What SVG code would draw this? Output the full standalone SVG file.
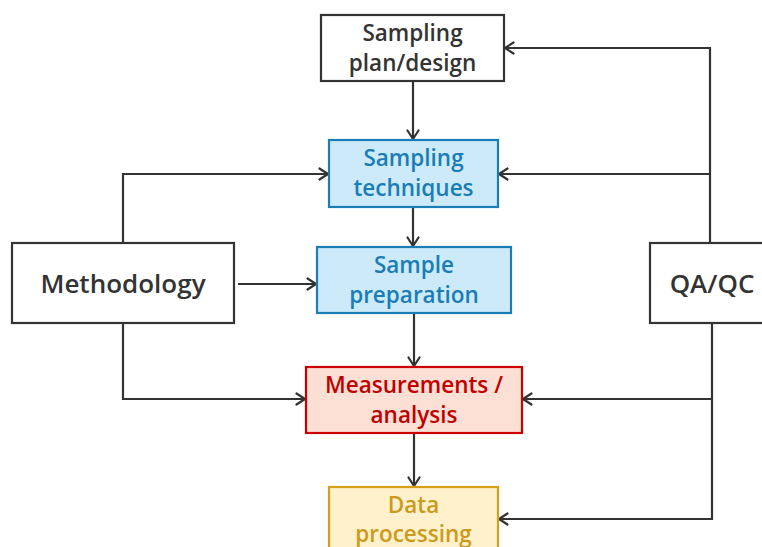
<svg xmlns="http://www.w3.org/2000/svg" width="762" height="547" viewBox="0 0 762 547">
<defs>
<marker id="arr" viewBox="0 0 14 14" refX="12.5" refY="7" markerWidth="14" markerHeight="14" markerUnits="userSpaceOnUse" orient="auto">
<path d="M4,1.5 L12.5,7 L4,12.5" fill="none" stroke="#333" stroke-width="2.2" stroke-linecap="round" stroke-linejoin="round"/>
</marker>
<style>
text{font-family:"Open Sans","Noto Sans","Liberation Sans",sans-serif;font-weight:600;font-size:22.5px;text-anchor:middle}
.big{font-size:26px}
.plain rect{fill:#fff;stroke:#333;stroke-width:2.2}
.plain text{fill:#333}
.blue rect{fill:#cdeafb;stroke:#1a7db5;stroke-width:2.2}
.blue text{fill:#1a7db5}
.red rect{fill:#fce0d6;stroke:#cc0000;stroke-width:2.2}
.red text{fill:#c00000}
.yel rect{fill:#fff1cc;stroke:#d4a017;stroke-width:2.2}
.yel text{fill:#cc9a1c}
#connectors path{fill:none;stroke:#333;stroke-width:2.2}
</style>
</defs>
<rect width="762" height="547" fill="#fff"/>
<g id="connectors">
<path d="M413,81 V139" marker-end="url(#arr)"/>
<path d="M413,207 V246" marker-end="url(#arr)"/>
<path d="M414,313 V366" marker-end="url(#arr)"/>
<path d="M414,433 V486" marker-end="url(#arr)"/>
<path d="M123,243 V174 H328" marker-end="url(#arr)"/>
<path d="M238,284 H316" marker-end="url(#arr)"/>
<path d="M123,323 V399 H305" marker-end="url(#arr)"/>
<path d="M710,243 V48 H505" marker-end="url(#arr)"/>
<path d="M710,174 H499" marker-end="url(#arr)"/>
<path d="M712,323 V519 H499" marker-end="url(#arr)"/>
<path d="M712,399 H523" marker-end="url(#arr)"/>
</g>
<g id="plan" class="plain">
<rect x="321" y="15" width="183" height="66"/>
<text x="412.5" y="41">Sampling</text>
<text x="412.5" y="71">plan/design</text>
</g>
<g id="techniques" class="blue">
<rect x="329" y="140" width="169" height="67"/>
<text x="413.5" y="166">Sampling</text>
<text x="413.5" y="196">techniques</text>
</g>
<g id="methodology" class="plain">
<rect x="12" y="243" width="222" height="80"/>
<text class="big" x="123" y="293">Methodology</text>
</g>
<g id="preparation" class="blue">
<rect x="317" y="247" width="194" height="66"/>
<text x="414" y="273">Sample</text>
<text x="414" y="303">preparation</text>
</g>
<g id="qaqc" class="plain">
<rect x="650" y="243" width="122" height="80"/>
<text class="big" x="712" y="293">QA/QC</text>
</g>
<g id="measurements" class="red">
<rect x="306" y="367" width="216" height="66"/>
<text x="414" y="393">Measurements /</text>
<text x="414" y="423">analysis</text>
</g>
<g id="data" class="yel">
<rect x="329" y="487" width="169" height="70"/>
<text x="413.5" y="513">Data</text>
<text x="413.5" y="542">processing</text>
</g>
</svg>
